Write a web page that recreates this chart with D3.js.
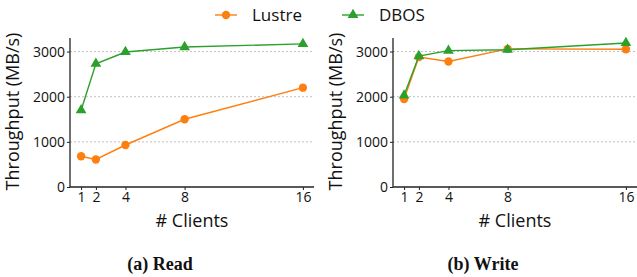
<!DOCTYPE html>
<html>
<head>
<meta charset="utf-8">
<script src="https://cdn.jsdelivr.net/npm/d3@7"></script>
<style>
  body { margin: 0; background: #fff; }
  svg text { font-family: "Open Sans", "DejaVu Sans", sans-serif; fill: #111; }
  .caption { font-family: "Liberation Serif", "DejaVu Serif", serif !important; font-weight: bold; }
</style>
</head>
<body>
<div id="chart"></div>
<script>
// Data
const clients = [1, 2, 4, 8, 16];
const yTicks = [0, 1000, 2000, 3000];
const readLustre = [680, 610, 930, 1500, 2200];
const readDbos = [1700, 2730, 2990, 3100, 3170];
const writeLustre = [1950, 2880, 2780, 3060, 3050];
const writeDbos = [2030, 2900, 3020, 3040, 3190];

const W = 637, H = 277;
const colors = {lustre: "#ff7f0e", dbos: "#2ca02c"};

const svg = d3.select("#chart").append("svg")
    .attr("width", W)
    .attr("height", H);

// Legend
const legend = svg.append("g");
const legendItems = [
    {name: "Lustre", color: colors.lustre, shape: "circle", x: 215},
    {name: "DBOS", color: colors.dbos, shape: "triangle", x: 342}
];
legendItems.forEach(function(it) {
    let g = legend.append("g").attr("transform", `translate(${it.x}, 15)`);
    g.append("line").attr("x1", 0).attr("x2", 22)
        .attr("stroke", it.color).attr("stroke-width", 1.4);
    g.append("path")
        .attr("d", d3.symbol().type(it.shape === "circle" ? d3.symbolCircle : d3.symbolTriangle).size(it.shape === "circle" ? 55 : 50))
        .attr("transform", "translate(11, 0)")
        .attr("fill", it.color);
    g.append("text").attr("x", 37).attr("y", 6)
        .style("font-size", "17px")
        .text(it.name);
});

function drawPanel(left, lustre, dbos, caption) {
    const plot = {left: left, right: left + 244, top: 38, bottom: 187};

    let x = d3.scaleLinear().domain([0.25, 16.75]).range([plot.left, plot.right]);
    let y = d3.scaleLinear().domain([0, 3300]).range([plot.bottom, plot.top]);

    let g = svg.append("g");

    // gridlines
    g.selectAll(".grid").data(yTicks.filter(d => d > 0)).enter()
        .append("line")
        .attr("x1", plot.left).attr("x2", plot.right)
        .attr("y1", d => y(d)).attr("y2", d => y(d))
        .attr("stroke", "#b0b0b0")
        .attr("stroke-width", 0.8)
        .attr("stroke-dasharray", "2,2");

    // axes
    let yAxis = g.append("g")
        .attr("transform", `translate(${plot.left}, 0)`)
        .call(d3.axisLeft(y).tickValues(yTicks).tickSize(3).tickPadding(2).tickFormat(d3.format("d")));
    let xAxis = g.append("g")
        .attr("transform", `translate(0, ${plot.bottom})`)
        .call(d3.axisBottom(x).tickValues(clients).tickSize(3).tickPadding(2));
    [xAxis, yAxis].forEach(function(a) {
        a.select(".domain").attr("stroke", "#222").attr("stroke-width", 1.3);
        a.selectAll(".tick line").attr("stroke", "#222");
        a.selectAll("text").style("font-size", "14px").attr("fill", "#111");
    });
    yAxis.select(".domain").attr("d", `M0,${plot.bottom}V${plot.top}`);
    xAxis.select(".domain").attr("d", `M${plot.left},0H${plot.right}`);

    // axis labels
    g.append("text")
        .attr("x", (plot.left + plot.right) / 2)
        .attr("y", 227)
        .style("text-anchor", "middle")
        .style("font-size", "18px")
        .text("# Clients");
    g.append("text")
        .attr("transform", `translate(${left - 51}, ${(plot.top + plot.bottom) / 2 - 1}) rotate(-90)`)
        .style("text-anchor", "middle")
        .style("font-size", "18px")
        .text("Throughput (MB/s)");

    // caption
    g.append("text")
        .attr("class", "caption")
        .attr("x", (plot.left + plot.right) / 2 - 32)
        .attr("y", 270)
        .style("text-anchor", "middle")
        .style("font-size", "18px")
        .text(caption);

    let line = d3.line().x((d, i) => x(clients[i])).y(d => y(d));

    [{vals: lustre, color: colors.lustre, sym: d3.symbolCircle, size: 55},
     {vals: dbos, color: colors.dbos, sym: d3.symbolTriangle, size: 50}].forEach(function(s) {
        g.append("path")
            .datum(s.vals)
            .attr("d", line)
            .attr("fill", "none")
            .attr("stroke", s.color)
            .attr("stroke-width", 1.4);
        g.selectAll(null).data(s.vals).enter()
            .append("path")
            .attr("d", d3.symbol().type(s.sym).size(s.size))
            .attr("transform", (d, i) => `translate(${x(clients[i])}, ${y(d)})`)
            .attr("fill", s.color);
    });
}

drawPanel(70, readLustre, readDbos, "(a) Read");
drawPanel(393, writeLustre, writeDbos, "(b) Write");
</script>
</body>
</html>
